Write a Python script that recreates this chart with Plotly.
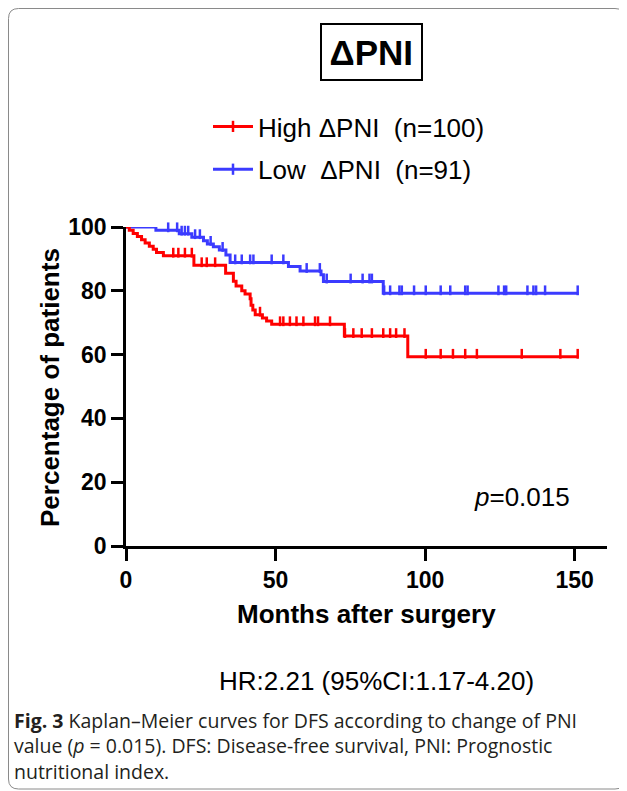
import plotly.graph_objects as go
import numpy as np

# ---------------- data ----------------
red_times = [0, 1.1, 2.4, 3.8, 5.2, 6.4, 7.8, 9.1, 10.2, 12.5, 22.7, 33.3, 35.9, 36.8,
             38.7, 39.8, 41.5, 41.8, 42.4, 43.2, 45.6, 47.0, 48.7, 73.0, 94.2]
red_levels = [100, 99, 98, 97, 96, 95, 94, 93, 92, 91, 88, 85.5, 83, 81.5,
              80, 79, 77.5, 75.5, 74, 72.5, 71.5, 70.5, 69.5, 65.8, 59.3]
red_end = 151.3
red_censor = [15.8, 17.5, 19.7, 22.0, 25.3, 27.0, 29.8, 44.8, 51.5, 52.6, 54.8, 57.0,
              59.3, 63.2, 64.2, 68.2, 73.2, 76.0, 78.8, 82.2, 86.0, 88.3, 90.3, 93.1,
              100.2, 105.2, 109.3, 113.4, 117.3, 132.3, 145.2, 151.0]

blue_times = [0, 10.0, 17.8, 22.0, 25.9, 27.2, 29.2, 31.2, 33.4, 34.8, 54.3, 58.2, 65.2, 66.0, 86.0]
blue_levels = [100, 98.95, 97.9, 96.8, 95.7, 94.7, 93.8, 92.8, 91.2, 88.9, 87.6, 86.2, 85.0, 82.9, 79.2]
blue_end = 151.3
blue_censor = [1.1, 3.3, 8.2, 14.1, 17.1, 18.6, 19.7, 20.8, 23.1, 24.7, 28.3, 32.3,
               36.5, 38.7, 41.5, 42.6, 48.7, 52.6, 60.4, 64.8, 67.1, 75.1, 79.1, 81.4, 82.2,
               86.3, 88.3, 91.4, 92.2, 96.3, 100.2, 105.2, 108.4, 113.4, 114.2, 124.5, 126.4,
               127.1, 134.2, 136.2, 137.1, 140.1, 151.0]

x_ticks = [0, 50, 100, 150]
y_ticks = [0, 20, 40, 60, 80, 100]

red_name = "High ΔPNI\u00a0\u00a0(n=100)"
blue_name = "Low\u00a0\u00a0ΔPNI\u00a0\u00a0(n=91)"

RED = "#ff0000"
BLUE = "#3b3bff"
FONT = "Liberation Sans, Arial, sans-serif"
TICK_UP = 0.95  # vertical offset of censor ticks (percentage units)


def step_level(times, levels, t):
    idx = np.searchsorted(np.array(times), t, side="right") - 1
    return levels[max(idx, 0)]


fig = go.Figure()


def add_group(times, levels, end, censor, color, name, rank):
    xs = list(times) + [end]
    ys = list(levels) + [levels[-1]]
    fig.add_trace(go.Scatter(x=xs, y=ys, mode="lines", line=dict(color=color, width=3, shape="hv"),
                             showlegend=False, cliponaxis=False, hoverinfo="skip"))
    cy = [step_level(times, levels, t) + TICK_UP for t in censor]
    fig.add_trace(go.Scatter(x=censor, y=cy, mode="markers",
                             marker=dict(symbol="line-ns", size=7, color=color,
                                         line=dict(color=color, width=2.5)),
                             showlegend=False, cliponaxis=False, hoverinfo="skip"))
    fig.add_trace(go.Scatter(x=[None], y=[None], mode="lines+markers", name=name,
                             line=dict(color=color, width=3),
                             marker=dict(symbol="line-ns", size=8, color=color,
                                         line=dict(color=color, width=2.5)),
                             legendgroup=name, legendrank=rank))


add_group(blue_times, blue_levels, blue_end, blue_censor, BLUE, blue_name, 2)
add_group(red_times, red_levels, red_end, red_censor, RED, red_name, 1)

axis_common = dict(showline=True, linecolor="black", linewidth=2.5, ticks="outside",
                   ticklen=12, tickwidth=2.5, tickcolor="black", showgrid=False, zeroline=False,
                   tickfont=dict(family=FONT, size=23, color="black", weight="bold"))

fig.update_xaxes(range=[0, 160.8], tickvals=x_ticks, **axis_common)
fig.update_yaxes(range=[0, 100], tickvals=y_ticks, **axis_common)

# page coordinates (the page body has an 8px margin)
O = 8
L, R, T, B = 126, 607, 227, 546
PAGE_W, PAGE_H = 627, 791
W, H = PAGE_W - O, PAGE_H - O


def px(x):
    return (x - L) / (R - L)


def py(y):
    return (B - y) / (B - T)


annotations = [
    dict(text="<b>ΔPNI</b>", x=px(371), y=py(52), xref="paper", yref="paper", showarrow=False,
         font=dict(family=FONT, size=35, color="black"), bordercolor="black", borderwidth=2,
         borderpad=7.5, xanchor="center", yanchor="middle"),
    dict(text="<b>Percentage of patients</b>", x=px(50), y=py(388), xref="paper", yref="paper",
         showarrow=False, textangle=-90, font=dict(family=FONT, size=26, color="black"),
         xanchor="center", yanchor="middle"),
    dict(text="<b>Months after surgery</b>", x=px(366), y=py(614), xref="paper", yref="paper",
         showarrow=False, font=dict(family=FONT, size=26, color="black"),
         xanchor="center", yanchor="middle"),
    dict(text="<i>p</i>=0.015", x=px(522), y=py(497), xref="paper", yref="paper",
         showarrow=False, font=dict(family=FONT, size=26, color="black"),
         xanchor="center", yanchor="middle"),
    dict(text="HR:2.21 (95%CI:1.17-4.20)", x=px(376), y=py(681), xref="paper", yref="paper",
         showarrow=False, font=dict(family=FONT, size=26, color="black"),
         xanchor="center", yanchor="middle"),
]
cap_font = dict(family="Open Sans, sans-serif", size=19.5, color="#231f20")
cap_text = ("<b>Fig. 3</b> Kaplan–Meier curves for DFS according to change of PNI<br>"
            "value (<i>p</i> = 0.015). DFS: Disease-free survival, PNI: Prognostic<br>"
            "nutritional index.")
annotations.append(dict(text=cap_text, x=px(12), y=py(705), xref="paper", yref="paper",
                        showarrow=False, font=cap_font, xanchor="left", yanchor="top",
                        align="left"))

# outer frame (rounded rectangle)
l, r, t, b = px(8.5), px(625), py(8.5), py(789)
dx, dy = 10 / (R - L), 10 / (B - T)
frame = (f"M{l},{b + dy} L{l},{t - dy} Q{l},{t} {l + dx},{t} L{r - dx},{t} Q{r},{t} {r},{t - dy} "
         f"L{r},{b + dy} Q{r},{b} {r - dx},{b} L{l + dx},{b} Q{l},{b} {l},{b + dy} Z")

fig.update_layout(
    width=W, height=H,
    margin=dict(l=L - O, r=PAGE_W - R, t=T - O, b=PAGE_H - B, pad=0),
    paper_bgcolor="white", plot_bgcolor="white",
    annotations=annotations,
    shapes=[dict(type="path", path=frame, xref="paper", yref="paper",
                 line=dict(color="#8a8a8a", width=1))],
    legend=dict(x=px(208), y=py(103), xanchor="left", yanchor="top",
                font=dict(family=FONT, size=26, color="black"), tracegroupgap=6,
                bgcolor="rgba(0,0,0,0)", itemwidth=40),
    showlegend=True,
)

fig.write_html("out.html")
